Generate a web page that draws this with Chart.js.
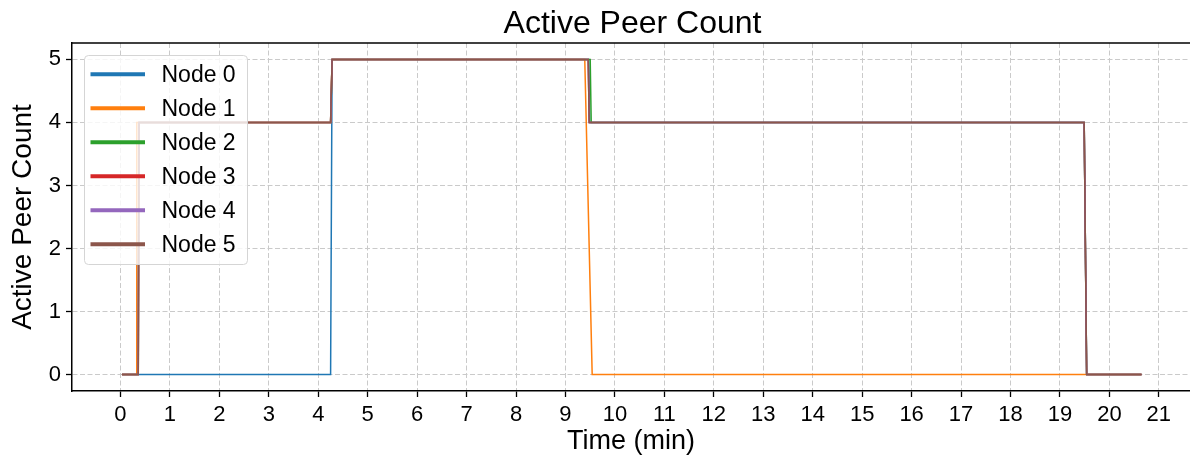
<!DOCTYPE html>
<html>
<head>
<meta charset="utf-8">
<title>Active Peer Count</title>
<script src="https://cdn.jsdelivr.net/npm/chart.js@4.4.1/dist/chart.umd.min.js"></script>
<style>
  html, body { margin: 0; padding: 0; background: #fff; }
  #peerChart { display: block; }
</style>
</head>
<body>
<canvas id="peerChart" width="1190" height="464"></canvas>
<script>
// tick labels
const timeTicks = [0, 1, 2, 3, 4, 5, 6, 7, 8, 9, 10, 11, 12, 13, 14, 15, 16, 17, 18, 19, 20, 21];
const peerTicks = [0, 1, 2, 3, 4, 5];

const nodeLabels = ['Node 0', 'Node 1', 'Node 2', 'Node 3', 'Node 4', 'Node 5'];
const nodeColors = ['#1f77b4', '#ff7f0e', '#2ca02c', '#d62728', '#9467bd', '#8c564b'];

// time (min) / active peer count at each change
const node0Time = [0.03, 4.25, 4.28, 9.47, 9.49, 19.49, 19.54, 20.65];
const node0Count = [0, 0, 5, 5, 4, 4, 0, 0];

const node1Time = [0.03, 0.32, 0.33, 4.25, 4.28, 9.39, 9.54, 20.65];
const node1Count = [0, 0, 4, 4, 5, 5, 0, 0];

const node2Time = [0.03, 0.36, 0.375, 4.25, 4.28, 9.50, 9.52, 19.49, 19.54, 20.65];
const node2Count = [0, 0, 4, 4, 5, 5, 4, 4, 0, 0];

const node3Time = [0.03, 0.36, 0.375, 4.25, 4.28, 9.46, 9.48, 19.49, 19.54, 20.65];
const node3Count = [0, 0, 4, 4, 5, 5, 4, 4, 0, 0];

const node4Time = [0.03, 0.36, 0.375, 4.25, 4.28, 9.46, 9.48, 19.49, 19.54, 20.65];
const node4Count = [0, 0, 4, 4, 5, 5, 4, 4, 0, 0];

const node5Time = [0.03, 0.36, 0.375, 4.25, 4.28, 9.46, 9.48, 19.49, 19.54, 20.65];
const node5Count = [0, 0, 4, 4, 5, 5, 4, 4, 0, 0];

const nodeTimes = [node0Time, node1Time, node2Time, node3Time, node4Time, node5Time];
const nodeCounts = [node0Count, node1Count, node2Count, node3Count, node4Count, node5Count];

const FONT = "'Liberation Sans', Arial, sans-serif";
Chart.defaults.font.family = FONT;
Chart.defaults.color = '#000';

// title over the (partly cut off) axes, top spine, legend box upper left
const frameAndLegend = {
    id: 'frameAndLegend',
    afterDraw(chart) {
        const ctx = chart.ctx;
        const area = chart.chartArea;

        ctx.save();
        ctx.fillStyle = '#000';
        ctx.font = '32px ' + FONT;
        ctx.textAlign = 'center';
        ctx.textBaseline = 'alphabetic';
        ctx.fillText('Active Peer Count', 632.5, 32.5);

        ctx.strokeStyle = '#000';
        ctx.lineWidth = 1.5;
        ctx.beginPath();
        ctx.moveTo(area.left, area.top);
        ctx.lineTo(area.right + 2, area.top);
        ctx.stroke();

        // legend box
        const bx = 84.5, by = 55.5, bw = 163, bh = 209;
        ctx.beginPath();
        ctx.roundRect(bx, by, bw, bh, 4);
        ctx.fillStyle = 'rgba(255,255,255,0.8)';
        ctx.fill();
        ctx.strokeStyle = '#d5d5d5';
        ctx.lineWidth = 1;
        ctx.stroke();

        ctx.font = '23px ' + FONT;
        ctx.textBaseline = 'middle';
        ctx.textAlign = 'left';
        chart.data.datasets.forEach((ds, i) => {
            const y = 74.3 + i * 34;
            ctx.strokeStyle = ds.borderColor;
            ctx.lineWidth = 4;
            ctx.beginPath();
            ctx.moveTo(90.5, y);
            ctx.lineTo(145, y);
            ctx.stroke();
            ctx.fillStyle = '#000';
            ctx.fillText(ds.label, 161.5, y + 1);
        });
        ctx.restore();
    }
};

const datasets = nodeLabels.map((label, i) => ({
    label: label,
    data: nodeTimes[i].map((t, j) => ({ x: t, y: nodeCounts[i][j] })),
    borderColor: nodeColors[i],
    backgroundColor: nodeColors[i],
    borderWidth: 1.5,
    pointRadius: 0,
    tension: 0,
    order: nodeLabels.length - i // last node drawn on top
}));

const ctx = document.getElementById('peerChart').getContext('2d');
const peerChart = new Chart(ctx, {
    type: 'line',
    data: { datasets: datasets },
    plugins: [frameAndLegend],
    options: {
        responsive: false,
        animation: false,
        devicePixelRatio: 1,
        layout: { padding: { left: 0, right: 0, top: 43, bottom: 0 } },
        plugins: {
            legend: { display: false },
            tooltip: { enabled: false },
            title: { display: false }
        },
        scales: {
            x: {
                type: 'linear',
                min: -0.98,
                max: 21.63,
                afterBuildTicks: scale => { scale.ticks = timeTicks.map(v => ({ value: v })); },
                afterFit: scale => { scale.height = 73; },
                ticks: {
                    autoSkip: false,
                    maxRotation: 0,
                    font: { size: 22 },
                    color: '#000',
                    padding: 5
                },
                grid: {
                    color: '#cacaca',
                    lineWidth: 1,
                    tickColor: '#000',
                    tickWidth: 1.3,
                    tickLength: 6,
                    tickBorderDash: []
                },
                border: { display: true, color: '#000', width: 1.5, dash: [5, 2.5] },
                title: {
                    display: true,
                    text: 'Time (min)',
                    font: { size: 27 },
                    color: '#000',
                    padding: { top: 0, bottom: 6 }
                }
            },
            y: {
                type: 'linear',
                min: -0.26,
                max: 5.26,
                afterBuildTicks: scale => { scale.ticks = peerTicks.map(v => ({ value: v })); },
                afterFit: scale => { scale.width = 72; },
                ticks: {
                    font: { size: 22 },
                    color: '#000',
                    padding: 5
                },
                grid: {
                    color: '#cacaca',
                    lineWidth: 1,
                    tickColor: '#000',
                    tickWidth: 1.3,
                    tickLength: 6,
                    tickBorderDash: []
                },
                border: { display: true, color: '#000', width: 1.5, dash: [5, 2.5] },
                title: {
                    display: true,
                    text: 'Active Peer Count',
                    font: { size: 28 },
                    color: '#000',
                    padding: { top: 6, bottom: 0 }
                }
            }
        }
    }
});
</script>
</body>
</html>
